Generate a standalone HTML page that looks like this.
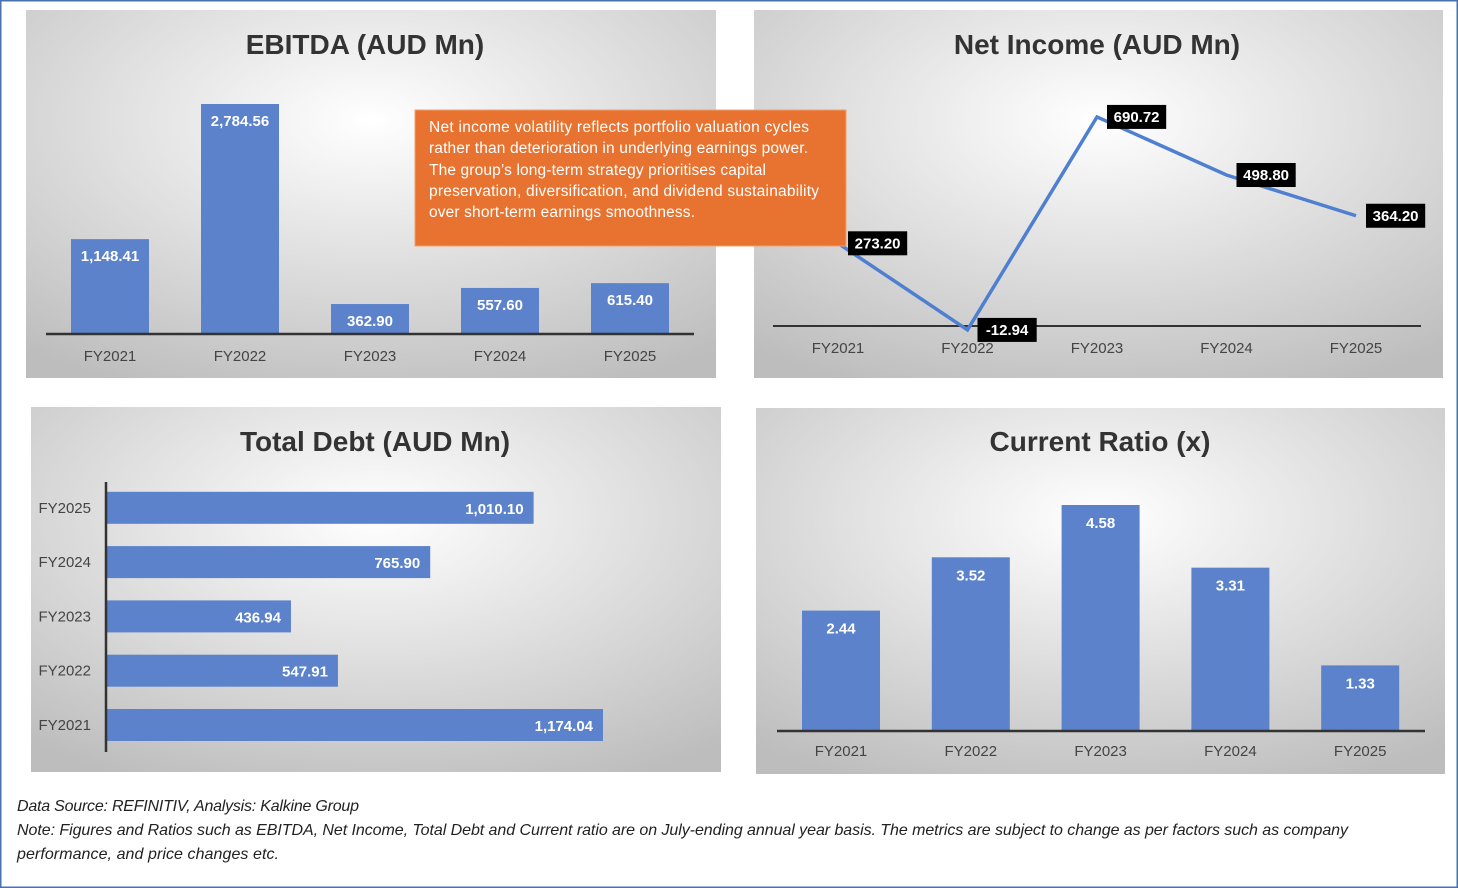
<!DOCTYPE html>
<html><head><meta charset="utf-8"><style>
html,body{margin:0;padding:0;background:#fff}
svg{display:block;font-family:"Liberation Sans Narrow","Liberation Sans",sans-serif}
</style></head><body>
<svg id="s" width="1458" height="888" viewBox="0 0 1458 888" xmlns="http://www.w3.org/2000/svg">
<defs>
<radialGradient id="bg" cx="0.5" cy="0.3" r="0.8">
<stop offset="0" stop-color="#ffffff"/><stop offset="1" stop-color="#bdbdbd"/>
</radialGradient>
</defs>
<rect x="0.5" y="0.5" width="1457" height="887" fill="#fff" stroke="#4a72b0" stroke-width="2"/>
<g>
<rect x="26" y="10" width="690" height="368" fill="url(#bg)"/>
<text x="365" y="54" text-anchor="middle" font-size="28" font-weight="bold" fill="#333" font-family="Liberation Sans, sans-serif">EBITDA (AUD Mn)</text>
<g id="g1"></g>
</g>
<g>
<rect x="754" y="10" width="689" height="368" fill="url(#bg)"/>
<text x="1097" y="54" text-anchor="middle" font-size="28" font-weight="bold" fill="#333" font-family="Liberation Sans, sans-serif">Net Income (AUD Mn)</text>
<g id="g2"></g>
</g>
<g>
<rect x="31" y="407" width="690" height="365" fill="url(#bg)"/>
<text x="375" y="451" text-anchor="middle" font-size="28" font-weight="bold" fill="#333" font-family="Liberation Sans, sans-serif">Total Debt (AUD Mn)</text>
<g id="g3"></g>
</g>
<g>
<rect x="756" y="408" width="689" height="366" fill="url(#bg)"/>
<text x="1100" y="451" text-anchor="middle" font-size="28" font-weight="bold" fill="#333" font-family="Liberation Sans, sans-serif">Current Ratio (x)</text>
<g id="g4"></g>
</g>
<g>
<rect x="415" y="110" width="431" height="136" fill="#e8722f" stroke="#f0a070" stroke-width="1"/>
<g fill="#fff" font-size="15.5">
<text x="429" y="132" textLength="380">Net income volatility reflects portfolio valuation cycles</text>
<text x="429" y="153" textLength="379">rather than deterioration in underlying earnings power.</text>
<text x="429" y="175" textLength="337">The group’s long-term strategy prioritises capital</text>
<text x="429" y="196" textLength="390">preservation, diversification, and dividend sustainability</text>
<text x="429" y="217" textLength="266">over short-term earnings smoothness.</text>
</g>
</g>
<g fill="#222" font-style="italic" font-size="16">
<text x="17" y="811" textLength="342">Data Source: REFINITIV, Analysis: Kalkine Group</text>
<text x="17" y="835" textLength="1331">Note: Figures and Ratios such as EBITDA, Net Income, Total Debt and Current ratio are on  July-ending annual year basis. The metrics are subject to change as per factors such as company</text>
<text x="17" y="859" textLength="262">performance, and price changes etc.</text>
</g>
</svg>
<script>
const years = ["FY2021","FY2022","FY2023","FY2024","FY2025"];
const ebitda = [1148.41,2784.56,362.90,557.60,615.40];
const ebitdaLabels = ["1,148.41","2,784.56","362.90","557.60","615.40"];
const netIncome = [273.20,-12.94,690.72,498.80,364.20];
const netIncomeLabels = ["273.20","-12.94","690.72","498.80","364.20"];
const debt = [1174.04,547.91,436.94,765.90,1010.10];
const debtLabels = ["1,174.04","547.91","436.94","765.90","1,010.10"];
const currentRatio = [2.44,3.52,4.58,3.31,1.33];
const crLabels = ["2.44","3.52","4.58","3.31","1.33"];

const NS="http://www.w3.org/2000/svg";
function mk(p,t,a,txt){const e=document.createElementNS(NS,t);for(const k in a)e.setAttribute(k,a[k]);if(txt!==undefined)e.textContent=txt;p.appendChild(e);return e;}
const BLUE="#5b82cb";

(function(){
 const g=document.getElementById('g1');
 const base=334, k=230/2784.56, x=i=>110+130*i;
 ebitda.forEach((v,i)=>{
  const r=mk(g,'rect',{x:x(i)-39,y:base-v*k,width:78,height:v*k,fill:BLUE});
  
  
  const t=mk(g,'text',{x:x(i),y:base-v*k+22,'text-anchor':'middle','font-size':15,'font-weight':'bold',fill:'#fff'},ebitdaLabels[i]);
  
  
  const l=mk(g,'text',{x:x(i),y:361,'text-anchor':'middle','font-size':15,fill:'#444'},years[i]);
  
  
 });
 const a=mk(g,'line',{x1:46,x2:694,y1:base,y2:base,stroke:'#333','stroke-width':2.5});
 
 
})();

(function(){
 const g=document.getElementById('g2');
 const zero=326, k=213/703.66, x=i=>838+129.5*i, y=v=>zero-v*k;
 const a=mk(g,'line',{x1:773,x2:1421,y1:zero,y2:zero,stroke:'#333','stroke-width':2});
 
 
 years.forEach((yr,i)=>{
  const l=mk(g,'text',{x:x(i),y:353,'text-anchor':'middle','font-size':15,fill:'#444'},yr);
  
  
 });
 const pl=mk(g,'polyline',{points:netIncome.map((v,i)=>x(i)+','+y(v)).join(' '),fill:'none',stroke:'#4f7fd0','stroke-width':3.5});
 
 
 netIncome.forEach((v,i)=>{
  const w=netIncomeLabels[i].length*8.2+10;
  const lx=x(i)+10, ly=y(v)-12;
  const r=mk(g,'rect',{x:lx,y:ly,width:w,height:24,fill:'#000'});
  
  
  const t=mk(g,'text',{x:lx+w/2,y:ly+17,'text-anchor':'middle','font-size':15,'font-weight':'bold',fill:'#fff'},netIncomeLabels[i]);
  
  
 });
})();

(function(){
 const g=document.getElementById('g3');
 const x0=106, k=497/1174.04, yc=i=>725-54.3*i;
 debt.forEach((v,i)=>{
  const r=mk(g,'rect',{x:x0,y:yc(i)-16,width:v*k,height:32,fill:BLUE});
  
  
  const t=mk(g,'text',{x:x0+v*k-10,y:yc(i)+6,'text-anchor':'end','font-size':15,'font-weight':'bold',fill:'#fff'},debtLabels[i]);
  
  
  const l=mk(g,'text',{x:91,y:yc(i)+5,'text-anchor':'end','font-size':15,fill:'#444'},years[i]);
  
  
 });
 const a=mk(g,'line',{x1:x0,x2:x0,y1:482,y2:752,stroke:'#333','stroke-width':2.5});
 
 
})();

(function(){
 const g=document.getElementById('g4');
 const base=731, k=226/4.58, x=i=>841+129.8*i;
 currentRatio.forEach((v,i)=>{
  const r=mk(g,'rect',{x:x(i)-39,y:base-v*k,width:78,height:v*k,fill:BLUE});
  
  
  const t=mk(g,'text',{x:x(i),y:base-v*k+23,'text-anchor':'middle','font-size':15,'font-weight':'bold',fill:'#fff'},crLabels[i]);
  
  
  const l=mk(g,'text',{x:x(i),y:756,'text-anchor':'middle','font-size':15,fill:'#444'},years[i]);
  
  
 });
 const a=mk(g,'line',{x1:777,x2:1425,y1:base,y2:base,stroke:'#333','stroke-width':2.5});
 
 
})();
</script>
</body></html>
